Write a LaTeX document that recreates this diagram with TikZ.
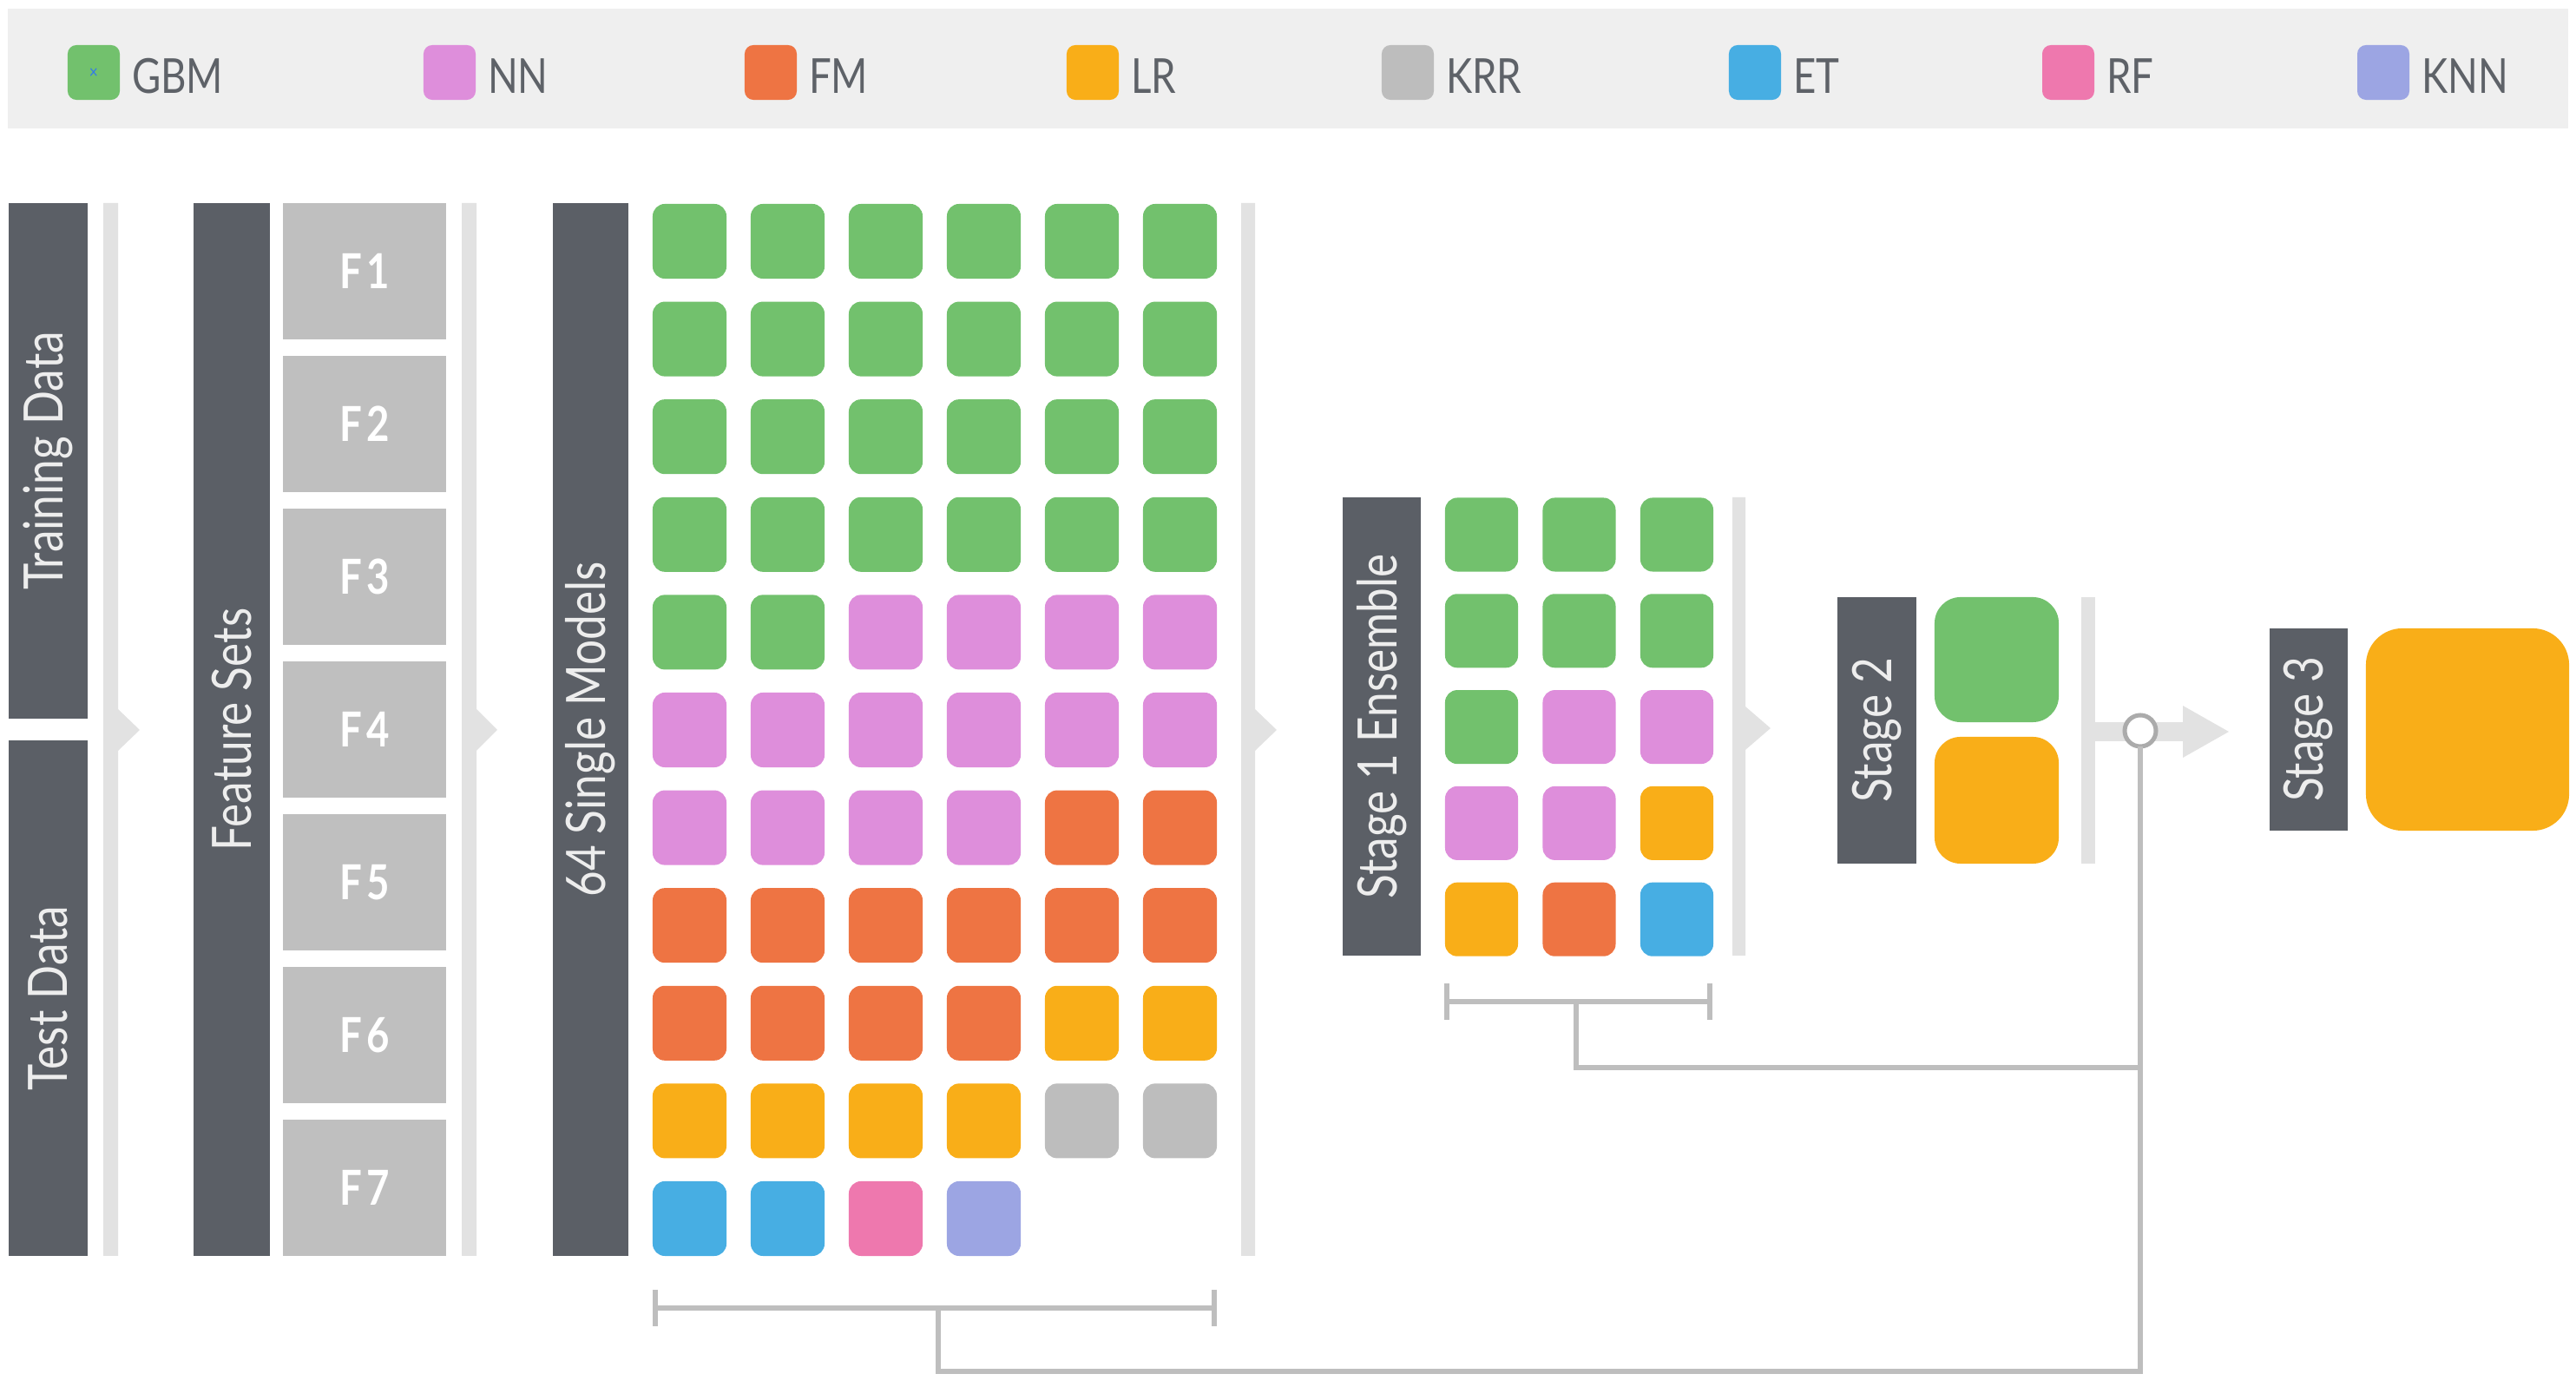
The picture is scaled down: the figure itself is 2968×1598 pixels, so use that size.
\documentclass[tikz,border=0pt]{standalone}
\usepackage{fontspec}
\setmainfont{Lato}[FakeStretch=0.82]
\newcommand\legfont{\fontsize{15.8}{18}\selectfont}
\newcommand\barfont{\fontsize{17.8}{20}\selectfont}
\newcommand\fsetfont{\fontsize{15.8}{18}\selectfont\bfseries}

\definecolor{gbm}{HTML}{72C16D}
\definecolor{nn}{HTML}{DE8EDB}
\definecolor{fm}{HTML}{EE7443}
\definecolor{lr}{HTML}{F9AE18}
\definecolor{krr}{HTML}{BDBDBD}
\definecolor{et}{HTML}{47AEE3}
\definecolor{rf}{HTML}{EE78AE}
\definecolor{knn}{HTML}{9CA5E3}
\definecolor{slate}{HTML}{5B5F66}
\definecolor{fbox}{HTML}{BFBFBF}
\definecolor{sep}{HTML}{E2E2E2}
\definecolor{wire}{HTML}{BEBEBE}
\definecolor{band}{HTML}{EFEFEF}
\definecolor{legtext}{HTML}{5E6268}

\begin{document}
\begin{tikzpicture}[x=0.01cm,y=-0.01cm,
  every node/.style={inner sep=0pt,outer sep=0pt},
  legsq/.style={rectangle,rounded corners=0.1cm,minimum width=0.6cm,minimum height=0.63cm},
  legtxt/.style={anchor=base west,text=legtext,font=\legfont},
  sq/.style={rectangle,rounded corners=0.14cm,minimum width=0.85cm,minimum height=0.86cm},
  bar/.style={rectangle,fill=slate,text=white!93!black,font=\barfont,rotate=90},
  fset/.style={rectangle,fill=fbox,text=white,font=\fsetfont,minimum width=1.88cm,minimum height=1.57cm},
  sepbar/.style={fill=sep},
  conn/.style={draw=wire,line width=0.055cm}]

\useasboundingbox (0,0) rectangle (2968,1598);

% legend band
\node[fill=band,minimum width=29.48cm,minimum height=1.38cm] (legend) at (1484,79) {};
\foreach \name/\col/\xx in {GBM/gbm/78,NN/nn/488,FM/fm/858,LR/lr/1229,KRR/krr/1592,ET/et/1992,RF/rf/2353,KNN/knn/2716}{
  \node[legsq,fill=\col] (key-\col) at ({\xx+30},83.5) {};
  \node[legtxt] (lab-\col) at ({\xx+74},108) {\name};
}
\node[text=et!70!blue,font=\fontsize{6}{6}\selectfont] (keymark) at (108,85) {×};

% separators with arrow notches
\fill[sepbar] (119,234) -- (136,234) -- (136,817) -- (161,841) -- (136,865) -- (136,1447) -- (119,1447) -- cycle;
\fill[sepbar] (532,234) -- (549,234) -- (549,817) -- (573,841) -- (549,865) -- (549,1447) -- (532,1447) -- cycle;
\fill[sepbar] (1430,234) -- (1446,234) -- (1446,817) -- (1471,841) -- (1446,865) -- (1446,1447) -- (1430,1447) -- cycle;
\fill[sepbar] (1996,573) -- (2011,573) -- (2011,814) -- (2040,839) -- (2011,864) -- (2011,1101) -- (1996,1101) -- cycle;
\fill[sepbar] (2398,688) rectangle (2414,995);
\fill[sepbar] (2414,832) rectangle (2515,854);
\fill[sepbar] (2515,813) -- (2568,843) -- (2515,873) -- cycle;

% data
\node[bar,minimum width=5.94cm,minimum height=0.91cm] (train) at (55.5,531) {Training Data};
\node[bar,minimum width=5.94cm,minimum height=0.91cm] (test) at (55.5,1150) {Test Data};

% feature sets
\node[bar,minimum width=12.13cm,minimum height=0.88cm] (fsets) at (267,840.5) {Feature Sets};
\foreach \k in {1,...,7}{
  \node[fset] (F\k) at (420,{312.5+176*(\k-1)}) {F\hspace{1.6pt}\k};
}

% single models
\node[bar,minimum width=12.13cm,minimum height=0.87cm] (single) at (680.5,840.5) {64 Single Models};
\foreach \row [count=\r from 0] in {
  {gbm,gbm,gbm,gbm,gbm,gbm},{gbm,gbm,gbm,gbm,gbm,gbm},
  {gbm,gbm,gbm,gbm,gbm,gbm},{gbm,gbm,gbm,gbm,gbm,gbm},
  {gbm,gbm,nn,nn,nn,nn},{nn,nn,nn,nn,nn,nn},
  {nn,nn,nn,nn,fm,fm},{fm,fm,fm,fm,fm,fm},
  {fm,fm,fm,fm,lr,lr},{lr,lr,lr,lr,krr,krr},
  {et,et,rf,knn}}{
  \foreach \c [count=\k from 0] in \row{
    \node[sq,fill=\c] (m-\r-\k) at ({794.5+113*\k},{278+112.6*\r}) {};
  }
}

% stage 1
\node[bar,minimum width=5.28cm,minimum height=0.90cm] (stage1) at (1592,837) {Stage 1 Ensemble};
\foreach \row [count=\r from 0] in {
  {gbm,gbm,gbm},{gbm,gbm,gbm},{gbm,nn,nn},{nn,nn,lr},{lr,fm,et}}{
  \foreach \c [count=\k from 0] in \row{
    \node[sq,minimum width=0.84cm,minimum height=0.85cm,fill=\c] (s-\r-\k) at ({1707+112.5*\k},{616+110.8*\r}) {};
  }
}

% stage 2
\node[bar,minimum width=3.07cm,minimum height=0.91cm] (stage2) at (2162.5,841.5) {Stage 2};
\node[rectangle,rounded corners=0.3cm,fill=gbm,minimum width=1.43cm,minimum height=1.44cm] (s2a) at (2300.5,760) {};
\node[rectangle,rounded corners=0.3cm,fill=lr,minimum width=1.43cm,minimum height=1.46cm] (s2b) at (2300.5,922) {};

% stage 3
\node[bar,minimum width=2.33cm,minimum height=0.90cm] (stage3) at (2660,840.5) {Stage 3};
\node[rectangle,rounded corners=0.42cm,fill=lr,minimum width=2.34cm,minimum height=2.33cm] (s3) at (2843,840.5) {};

% feedback wiring
\node[circle,draw=wire!90!black,line width=0.05cm,fill=white,minimum size=0.36cm] (junc) at (2466,842) {};
\coordinate (low) at (2466,1580);
\coordinate (mid) at (2466,1230);

\coordinate (b1l) at (755,1507);
\coordinate (b1r) at (1399,1507);
\coordinate (b1m) at (1081,1507);
\draw[conn] (b1l) -- (b1r);
\draw[conn] (b1l) ++(0,-21) -- ++(0,42);
\draw[conn] (b1r) ++(0,-21) -- ++(0,42);
\draw[conn] (b1m) -- (b1m |- low) -| (junc.south);

\coordinate (b2l) at (1667,1154);
\coordinate (b2r) at (1970,1154);
\coordinate (b2m) at (1816,1154);
\draw[conn] (b2l) -- (b2r);
\draw[conn] (b2l) ++(0,-21) -- ++(0,42);
\draw[conn] (b2r) ++(0,-21) -- ++(0,42);
\draw[conn] (b2m) -- (b2m |- mid) -- (mid);
\end{tikzpicture}
\end{document}
